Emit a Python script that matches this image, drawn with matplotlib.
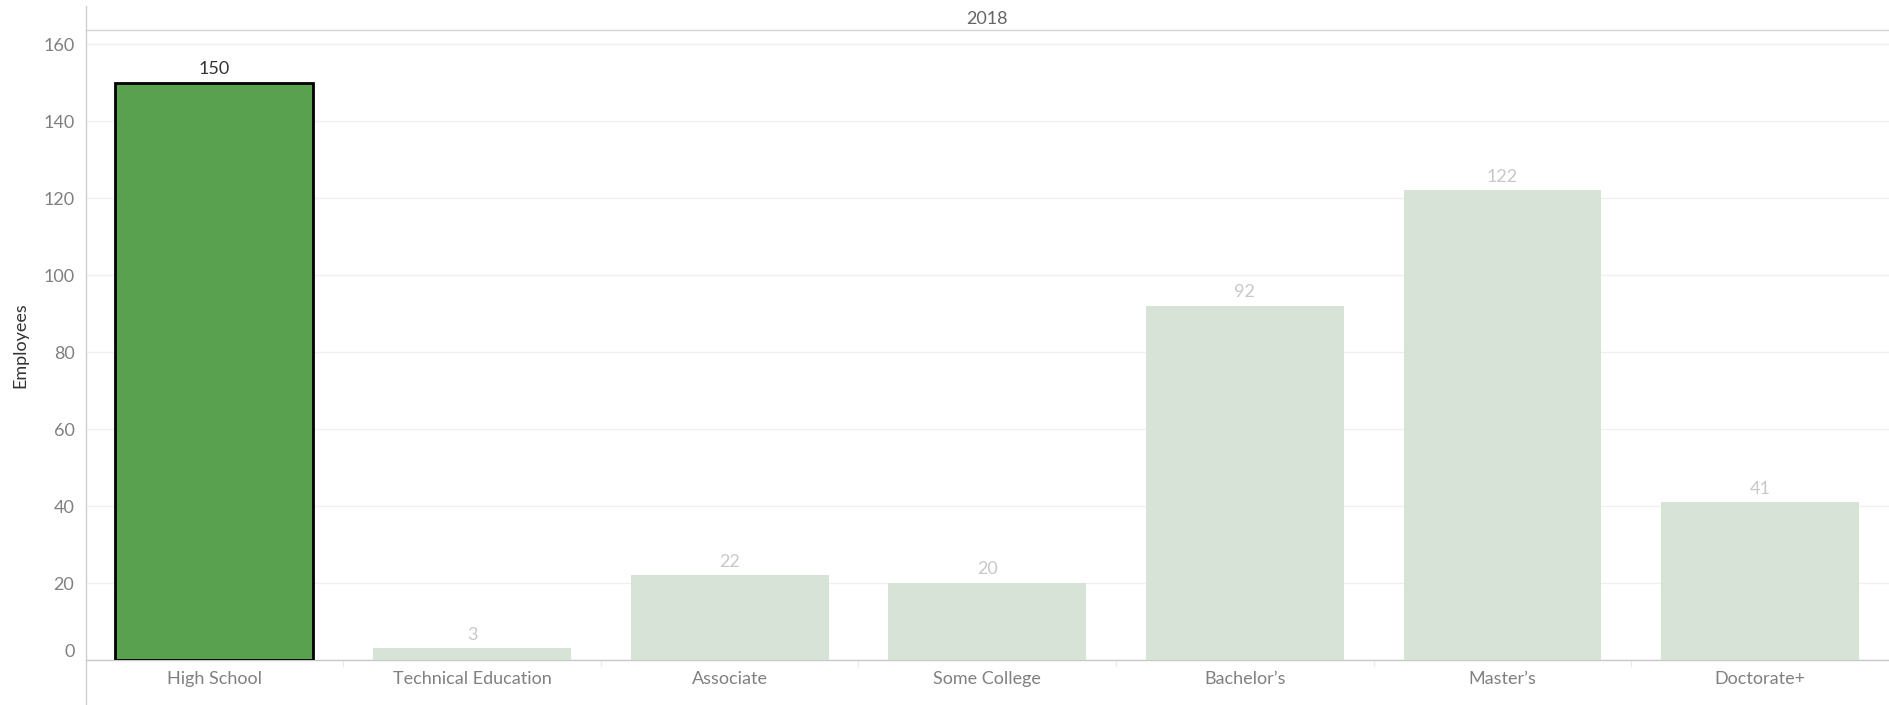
import matplotlib
matplotlib.use("Agg")
import matplotlib.pyplot as plt
from matplotlib.lines import Line2D

plt.rcParams["font.family"] = ["Lato", "DejaVu Sans"]

categories = ["High School", "Technical Education", "Associate", "Some College",
              "Bachelor\u2019s", "Master\u2019s", "Doctorate+"]
employees = [150, 3, 22, 20, 92, 122, 41]
highlighted = "High School"
column_header = "2018"
y_ticks = [0, 20, 40, 60, 80, 100, 120, 140, 160]

W, H = 1889, 705
fig = plt.figure(figsize=(W / 100, H / 100), dpi=100)
ax_left, ax_right = 85.5 / W, 1.0
ax_top, ax_bottom = 29.5, 660
ax = fig.add_axes([ax_left, (H - ax_bottom) / H, ax_right - ax_left, (ax_bottom - ax_top) / H])

fs = 13
x = list(range(len(categories)))
for i, (cat, val) in enumerate(zip(categories, employees)):
    hi = cat == highlighted
    ax.bar(i, val, width=0.768,
           color="#59a14f" if hi else "#d7e3d6",
           edgecolor="black" if hi else "none",
           linewidth=2 if hi else 0, zorder=3)
    ax.annotate(str(val), (i, val), xytext=(0, 4), textcoords="offset points",
                ha="center", va="bottom", fontsize=fs,
                color="#333333" if hi else "#c8c8c8", zorder=4)

ax.set_xlim(-0.5, len(categories) - 0.5)
ax.set_ylim(0, 163.8)
ax.set_yticks(y_ticks)
ax.set_xticks(x)
ax.set_xticklabels(categories)
ax.grid(axis="y", color="#f0f0f0", linewidth=1, zorder=0)
ax.tick_params(axis="both", length=0, labelsize=fs, labelcolor="#808080")
ax.tick_params(axis="y", pad=8)
ax.tick_params(axis="x", pad=8)
ax.get_yticklabels()[0].set_verticalalignment("bottom")

for s in ["left", "right"]:
    ax.spines[s].set_visible(False)
ax.spines["top"].set_color("#d4d4d4")
ax.spines["bottom"].set_color("#c8c8c8")
ax.spines["top"].set_linewidth(1)
ax.spines["bottom"].set_linewidth(1)

# faint separators between categories below the baseline
for b in range(1, len(categories)):
    ax.plot([b - 0.5, b - 0.5], [0, -1.6], color="#ececec", linewidth=1,
            clip_on=False, zorder=1)

ax.set_ylabel("Employees", fontsize=fs, color="#333333")
ax.yaxis.set_label_coords(-(85.5 - 28) / (W - 85.5), 0.5)

# left border line across header and footer
fig.add_artist(Line2D([ax_left, ax_left], [0, (H - 6) / H], color="#d0d0d0", linewidth=1))
fig.text((85.5 + W) / 2 / W, (H - 19) / H, column_header, ha="center", va="center",
         fontsize=fs, color="#666666")

fig.savefig("out.png", dpi=100, facecolor="white")
